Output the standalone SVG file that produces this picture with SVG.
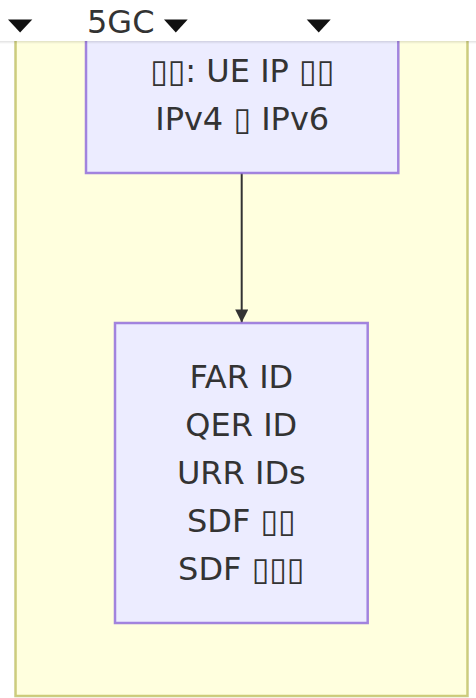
<svg xmlns="http://www.w3.org/2000/svg" width="476" height="698" viewBox="0 0 476 698">
<defs>
<style>
.cluster{fill:#ffffde;stroke:#aaaa33;stroke-opacity:0.6;stroke-width:2.5}
.node{fill:#ececff;stroke:#9370db;stroke-opacity:0.85;stroke-width:2.5}
.lbl{font-family:"DejaVu Sans","Noto Sans",sans-serif;font-size:32px;fill:#333333;text-anchor:middle}
.edge{stroke:#333333;stroke-width:2;fill:none}
.tri{fill:#111111}
</style>
<marker id="arrow" viewBox="0 0 10 10" refX="10" refY="5" markerUnits="userSpaceOnUse" markerWidth="17" markerHeight="13" orient="auto">
<path d="M0,0 L10,5 L0,10 z" fill="#333333"/>
</marker>
<linearGradient id="shadow" x1="0" y1="0" x2="0" y2="1">
<stop offset="0" stop-color="#000" stop-opacity="0.12"/>
<stop offset="1" stop-color="#000" stop-opacity="0"/>
</linearGradient>
</defs>
<g id="cluster-5GC">
<rect class="cluster" x="15.5" y="-10" width="452" height="706"/>
</g>
<g id="connectors">
<path class="edge" d="M241.7,173 L241.7,322.5" marker-end="url(#arrow)"/>
</g>
<g id="node-ueip">
<rect class="node" x="86" y="17" width="312.3" height="156"/>
<text class="lbl" x="242.2" y="82">▯▯: UE IP ▯▯</text>
<text class="lbl" x="242.2" y="130">IPv4 ▯ IPv6</text>
</g>
<g id="node-pdr">
<rect class="node" x="115" y="323" width="252.7" height="300"/>
<text class="lbl" x="241.3" y="388">FAR ID</text>
<text class="lbl" x="241.3" y="436">QER ID</text>
<text class="lbl" x="241.3" y="484">URR IDs</text>
<text class="lbl" x="241.3" y="532">SDF ▯▯</text>
<text class="lbl" x="241.3" y="580">SDF ▯▯▯</text>
</g>
<g id="header">
<rect x="0" y="0" width="476" height="41" fill="#ffffff"/>
<rect x="0" y="41" width="476" height="3" fill="url(#shadow)"/>
<polygon class="tri" points="8,19.5 32.3,19.5 20.1,32.5"/>
<text x="87" y="33.3" style="font-family:'DejaVu Sans',sans-serif;font-size:32px;fill:#333333">5GC</text>
<polygon class="tri" points="164,19.5 187.7,19.5 175.8,32.5"/>
<polygon class="tri" points="306.7,19.5 330.7,19.5 318.7,32.5"/>
</g>
</svg>
